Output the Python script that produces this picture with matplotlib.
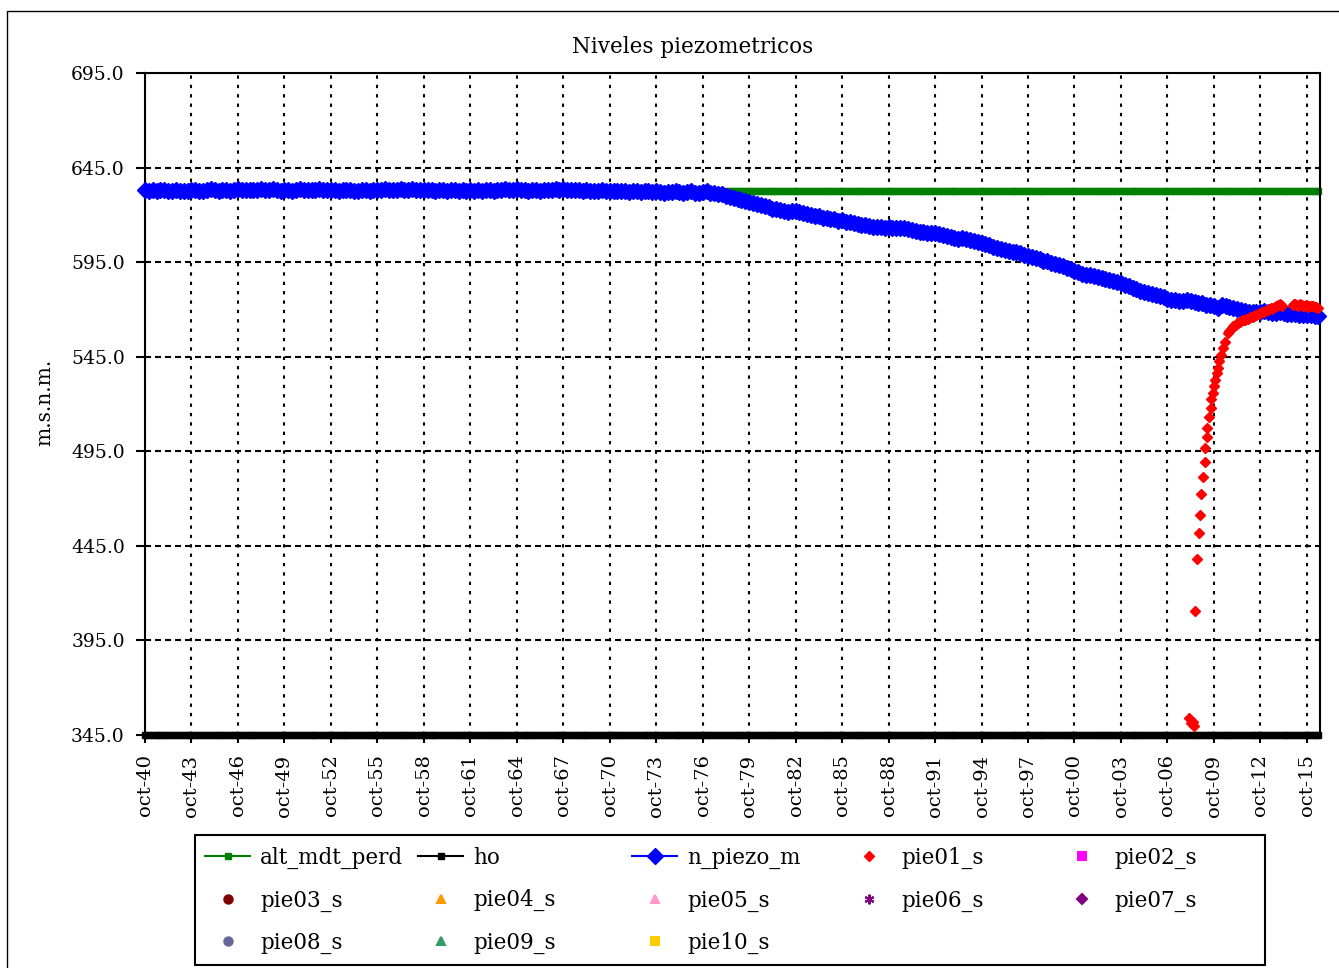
import numpy as np
import matplotlib
matplotlib.use("Agg")
import matplotlib.pyplot as plt
from matplotlib.patches import Rectangle

plt.rcParams['font.family'] = ['DejaVu Serif']

# quarterly piezometric level (oct, jan, apr, jul) per hydrological year, oct-40 .. jul-16
n_piezo_m = [
    633.0, 632.6, 633.2, 632.8,  633.4, 633.0, 632.6, 632.8,  633.2, 632.8, 632.4, 632.6,
    633.0, 633.4, 632.8, 632.6,  633.2, 633.6, 633.0, 632.8,  633.4, 633.2, 632.8, 633.0,
    633.6, 633.4, 633.2, 633.0,  633.4, 633.2, 633.6, 633.0,  633.2, 633.6, 633.4, 632.8,
    633.4, 633.0, 632.8, 633.2,  633.6, 633.4, 633.0, 633.2,  633.4, 633.6, 633.2, 633.0,
    633.2, 633.4, 632.8, 633.0,  633.4, 633.0, 632.8, 632.6,  633.0, 633.2, 632.8, 633.0,
    633.4, 633.2, 633.6, 633.2,  633.4, 633.0, 633.6, 633.2,  633.4, 633.6, 633.2, 633.0,
    633.2, 633.4, 633.0, 632.8,  633.2, 633.0, 632.6, 633.0,  633.2, 632.8, 633.0, 632.6,
    633.0, 632.8, 633.2, 632.8,  633.0, 633.4, 632.8, 633.2,  633.4, 633.8, 633.2, 633.0,
    633.6, 633.4, 633.0, 632.8,  633.2, 633.0, 632.8, 633.0,  633.4, 633.2, 633.8, 633.4,
    633.6, 633.2, 633.0, 633.4,  633.2, 632.8, 633.0, 632.6,  632.8, 632.6, 633.0, 632.8,
    632.6, 632.4, 632.8, 632.6,  632.4, 632.2, 632.6, 632.4,  632.2, 632.6, 632.4, 632.0,
    632.4, 632.2, 631.8, 632.0,  632.2, 632.6, 632.0, 631.8,  632.0, 632.4, 631.8, 631.6,
    632.0, 632.4, 631.8, 631.5,  631.0, 630.8, 630.2, 629.6,  629.0, 628.4, 627.8, 627.5,
    627.0, 626.2, 625.6, 625.0,  624.6, 624.0, 623.2, 623.0,  622.6, 621.8, 621.5, 622.0,
    621.8, 621.6, 621.0, 620.4,  620.0, 619.4, 619.2, 618.6,  618.4, 618.0, 617.6, 617.0,
    617.2, 616.4, 616.0, 615.6,  615.2, 614.8, 614.6, 614.0,  613.8, 613.4, 613.6, 613.2,
    613.4, 613.0, 612.8, 613.2,  613.0, 612.4, 612.0, 611.6,  611.2, 610.8, 610.6, 610.4,
    610.4, 609.8, 609.2, 608.6,  608.2, 607.8, 607.4, 607.8,  607.4, 606.6, 606.0, 605.8,
    605.2, 604.6, 604.0, 603.2,  602.6, 602.0, 601.4, 601.0,  600.6, 600.4, 599.6, 599.0,
    598.2, 597.6, 597.0, 596.4,  595.8, 595.4, 594.6, 594.0,  593.4, 592.8, 592.0, 591.4,
    590.2, 589.6, 588.8, 588.4,  588.0, 587.6, 587.0, 586.4,  586.0, 585.4, 584.8, 584.4,
    583.8, 583.0, 582.2, 581.4,  580.8, 580.0, 579.4, 578.6,  578.0, 577.6, 577.0, 576.4,
    575.6, 575.2, 575.0, 574.6,  574.6, 575.0, 574.4, 574.0,  573.6, 573.2, 572.6, 572.2,
    571.6, 571.0, 572.4, 572.0,  571.4, 570.6, 570.0, 569.6,  569.2, 568.8, 568.6, 568.4,
    568.6, 569.0, 568.4, 568.2,  568.0, 568.4, 568.0, 567.6,  567.8, 567.4, 567.2, 567.0,
    566.8, 567.0, 566.6, 566.4,
]
alt_mdt_perd = 632.5   # constant terrain level
ho = 345.0             # constant base level

# pie01_s observations (decimal year, m.s.n.m.)
pie01_year = [
    2008.13, 2008.26, 2008.46, 2008.40, 2008.52, 2008.63, 2008.76, 2008.87, 2008.89,
    2009.02, 2009.17, 2009.20, 2009.30, 2009.33, 2009.41, 2009.56, 2009.58, 2009.67,
    2009.78, 2009.84, 2009.93, 2010.00, 2010.10, 2010.21, 2010.32, 2010.47, 2010.65,
    2010.75, 2010.83, 2010.92, 2011.00, 2011.08, 2011.17, 2011.25, 2011.33, 2011.42,
    2011.50, 2011.58, 2011.67, 2011.75, 2011.83, 2011.92, 2012.00, 2012.08, 2012.17,
    2012.25, 2012.33, 2012.42, 2012.50, 2012.58, 2012.67, 2012.75, 2012.83, 2012.92,
    2013.00, 2013.08, 2013.17, 2013.25, 2013.33, 2013.42, 2013.50, 2013.58, 2013.67,
    2013.75, 2013.83, 2013.92, 2014.00, 2014.08, 2014.17,
    2014.86, 2014.92, 2015.00, 2015.08, 2015.17, 2015.25, 2015.33, 2015.42, 2015.50,
    2015.58, 2015.67, 2015.75, 2015.83, 2015.92, 2016.00, 2016.08, 2016.17, 2016.26,
    2016.35, 2016.48,
]
pie01_s = [
    354.0, 351.5, 350.0, 352.0, 410.6, 437.9, 451.7, 461.2, 472.6,
    481.6, 489.5, 496.9, 502.4, 507.5, 513.3, 518.1, 522.6, 525.8,
    529.3, 532.8, 536.4, 539.0, 542.5, 546.0, 549.5, 553.0, 557.4,
    558.5, 559.5, 560.1, 561.0, 561.5, 562.0, 562.7, 563.0, 563.4,
    563.8, 564.2, 564.5, 564.6, 564.9, 565.2, 565.4, 565.8, 566.2,
    566.0, 566.5, 566.9, 567.1, 567.4, 567.8, 568.0, 568.4, 568.8,
    568.9, 569.2, 569.6, 569.8, 570.2, 570.6, 570.4, 570.9, 571.3,
    571.6, 572.0, 572.5, 573.0, 572.6, 572.0,
    572.4, 573.0, 572.8, 572.2, 571.8, 572.6, 572.9, 572.4, 571.8,
    571.6, 572.2, 572.0, 571.4, 571.6, 572.0, 571.8, 571.6, 571.5,
    571.2, 570.6,
]

y_ticks = [345.0, 395.0, 445.0, 495.0, 545.0, 595.0, 645.0, 695.0]
x_tick_labels = ["oct-40", "oct-43", "oct-46", "oct-49", "oct-52", "oct-55", "oct-58",
                 "oct-61", "oct-64", "oct-67", "oct-70", "oct-73", "oct-76", "oct-79",
                 "oct-82", "oct-85", "oct-88", "oct-91", "oct-94", "oct-97", "oct-00",
                 "oct-03", "oct-06", "oct-09", "oct-12", "oct-15"]

W, H = 1339, 968
fig = plt.figure(figsize=(W / 100, H / 100), dpi=100)
ax = fig.add_axes([145 / W, 1 - 735 / H, (1320 - 145) / W, (735 - 73) / H])

x_q = 1940.75 + 0.25 * np.arange(len(n_piezo_m))

h_alt, = ax.plot(x_q, np.full(len(x_q), alt_mdt_perd), color='#008000', lw=1.5,
                 marker='s', ms=4.6, label='alt_mdt_perd', zorder=2, clip_on=False)
h_ho, = ax.plot(x_q, np.full(len(x_q), ho), color='black', lw=1.5,
                marker='s', ms=4.6, label='ho', zorder=3, clip_on=False)
h_piezo, = ax.plot(x_q, n_piezo_m, color='#0000FF', lw=1.5, marker='D', ms=8,
                   label='n_piezo_m', zorder=4, clip_on=False)
h_p01, = ax.plot(pie01_year, pie01_s, ls='none', marker='D', ms=5.5, color='#FF0000',
                 label='pie01_s', zorder=5, clip_on=False)

# empty series shown only in the legend
empty = [
    ('pie02_s', 's', '#FF00FF', 6),
    ('pie03_s', 'o', '#800000', 6),
    ('pie04_s', '^', '#FF9900', 6),
    ('pie05_s', '^', '#FF99CC', 6),
    ('pie06_s', (6, 2, 0), '#800080', 7),
    ('pie07_s', 'D', '#800080', 5),
    ('pie08_s', 'o', '#666699', 6),
    ('pie09_s', '^', '#339966', 6),
    ('pie10_s', 's', '#FFCC00', 6),
]
handles = [h_alt, h_ho, h_piezo, h_p01]
for name, mk, col, sz in empty:
    h, = ax.plot([], [], ls='none', marker=mk, color=col, ms=sz, mew=1.5, label=name)
    handles.append(h)

ax.set_xlim(1940.75, 2016.6)
ax.set_ylim(345, 695)
ax.set_yticks(y_ticks)
ax.set_yticklabels(['%.1f' % v for v in y_ticks])
ax.set_xticks(1940.75 + 3 * np.arange(len(x_tick_labels)))
ax.set_xticklabels(x_tick_labels, rotation=90)
ax.tick_params(axis='y', direction='out', length=6.5, width=1.5, pad=8, labelsize=13.5)
ax.tick_params(axis='x', direction='out', length=6, width=1.5, pad=8, labelsize=14)
for s in ax.spines.values():
    s.set_linewidth(1.5)
    s.set_color('black')

ax.xaxis.grid(True, color='black', lw=1.5, linestyle=(0, (1.6, 2.9)))
ax.yaxis.grid(True, color='black', lw=1.5, linestyle=(0, (2.9, 1.9)))
ax.set_axisbelow(True)

fig.text(693 / W, 1 - 47 / H, 'Niveles piezometricos', ha='center', va='center', fontsize=15.5)
fig.text(45 / W, 1 - 402 / H, 'm.s.n.m.', rotation=90, ha='center', va='center', fontsize=14.5)

# legend laid out row by row in five columns
col_x = [205, 418, 632, 846, 1059]
for c in range(5):
    idx = [i for i in (c, c + 5, c + 10) if i < len(handles)]
    fig.legend([handles[i] for i in idx], [handles[i].get_label() for i in idx],
               loc='upper left', bbox_to_anchor=(col_x[c] / W, 1 - 847 / H),
               frameon=False, fontsize=15.5, borderpad=0, borderaxespad=0,
               handlelength=2.1, handletextpad=0.45, labelspacing=0.94)
fig.add_artist(Rectangle((195 / W, 1 - 965 / H), (1265 - 195) / W, (965 - 835) / H,
                         transform=fig.transFigure, fill=False, lw=1.5, color='black'))
fig.add_artist(Rectangle((7 / W, -0.05), 1.1, 1 - 11 / H + 0.05,
                         transform=fig.transFigure, fill=False, lw=1, color='black'))

fig.savefig('out.png', dpi=100)
